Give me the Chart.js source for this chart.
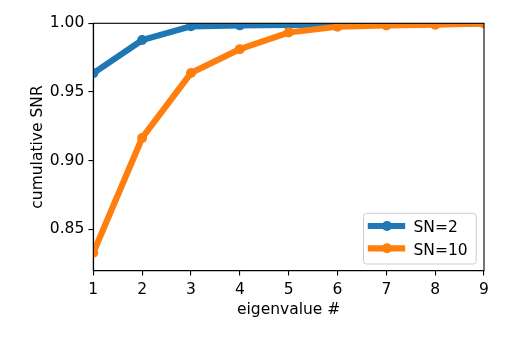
<!DOCTYPE html>
<html>
<head>
<meta charset="utf-8">
<script src="https://cdn.jsdelivr.net/npm/chart.js@4/dist/chart.umd.min.js"></script>
<style>
  html, body { margin: 0; padding: 0; background: #fff; }
  #wrap { width: 506px; height: 337px; }
</style>
</head>
<body>
<div id="wrap"><canvas id="snrChart" width="506" height="337"></canvas></div>
<script>
// eigenvalue index and cumulative SNR
var eigenIdx = [1, 2, 3, 4, 5, 6, 7, 8, 9];
var snrSN2 = [0.9637, 0.9878, 0.9978, 0.9985, 0.9988, 0.9990, 0.9992, 0.9995, 1.0];
var snrSN10 = [0.8330, 0.9166, 0.9638, 0.9812, 0.9933, 0.9975, 0.9985, 0.9990, 1.0];
var seriesNames = ["SN=2", "SN=10"];
var yTicks = [0.85, 0.90, 0.95, 1.00];
var xTicks = [1, 2, 3, 4, 5, 6, 7, 8, 9];

const blue = "#1f77b4";
const orange = "#ff7f0e";
const fontFam = "'DejaVu Sans', sans-serif";
const fs = 15.5;

function toPoints(ys) {
  return eigenIdx.map((x, i) => ({ x: x, y: ys[i] }));
}

// matplotlib-like frame + legend in lower right
const framePlugin = {
  id: "frame",
  afterDraw(chart) {
    const ctx = chart.ctx;
    const a = chart.chartArea;
    ctx.save();
    ctx.strokeStyle = "#000";
    ctx.lineWidth = 1.1;
    ctx.strokeRect(a.left, a.top, a.right - a.left, a.bottom - a.top);

    // legend box
    const bx = a.right - 120.5, by = a.bottom - 57.4, bw = 112.7, bh = 50.7, r = 3;
    ctx.beginPath();
    ctx.moveTo(bx + r, by);
    ctx.arcTo(bx + bw, by, bx + bw, by + bh, r);
    ctx.arcTo(bx + bw, by + bh, bx, by + bh, r);
    ctx.arcTo(bx, by + bh, bx, by, r);
    ctx.arcTo(bx, by, bx + bw, by, r);
    ctx.closePath();
    ctx.fillStyle = "rgba(255,255,255,0.8)";
    ctx.fill();
    ctx.strokeStyle = "#cccccc";
    ctx.lineWidth = 1;
    ctx.stroke();

    const rows = [by + 12.7, by + 35];
    chart.data.datasets.forEach(function (ds, i) {
      const yy = rows[i];
      ctx.strokeStyle = ds.borderColor;
      ctx.lineWidth = ds.borderWidth;
      ctx.lineCap = "butt";
      ctx.beginPath();
      ctx.moveTo(bx + 4.3, yy);
      ctx.lineTo(bx + 41.7, yy);
      ctx.stroke();
      ctx.fillStyle = ds.borderColor;
      ctx.beginPath();
      ctx.arc(bx + 23.5, yy, ds.pointRadius, 0, Math.PI * 2);
      ctx.fill();
      ctx.fillStyle = "#000";
      ctx.font = fs + "px " + fontFam;
      ctx.textBaseline = "alphabetic";
      ctx.textAlign = "left";
      ctx.fillText(ds.label, bx + 50, yy + 6.3);
    });
    ctx.restore();
  }
};

new Chart(document.getElementById("snrChart"), {
  type: "line",
  data: {
    datasets: [
      {
        label: seriesNames[0],
        data: toPoints(snrSN2),
        borderColor: blue,
        backgroundColor: blue,
        borderWidth: 6.2,
        pointRadius: 5,
        pointBorderWidth: 0,
        pointBackgroundColor: blue,
        clip: 0,
        order: 2,
      },
      {
        label: seriesNames[1],
        data: toPoints(snrSN10),
        borderColor: orange,
        backgroundColor: orange,
        borderWidth: 6.2,
        pointRadius: 5,
        pointBorderWidth: 0,
        pointBackgroundColor: orange,
        clip: 0,
        order: 1,
      },
    ],
  },
  options: {
    responsive: false,
    animation: false,
    events: [],
    layout: { padding: { top: 23.3, right: 22, left: 0, bottom: 0 } },
    plugins: {
      legend: { display: false },
      tooltip: { enabled: false },
    },
    scales: {
      x: {
        type: "linear",
        min: 1,
        max: 9,
        afterFit: (s) => { s.height = 66.3; },
        afterBuildTicks: (s) => { s.ticks = xTicks.map((v) => ({ value: v })); },
        grid: { drawOnChartArea: false, drawTicks: true, tickLength: 4.9, color: "#000", lineWidth: 1.1 },
        border: { display: true, color: "#000", width: 1.1 },
        ticks: { color: "#000", padding: 4.8, maxRotation: 0, font: { family: fontFam, size: fs } },
        title: {
          display: true,
          text: "eigenvalue #",
          color: "#000",
          font: { family: fontFam, size: fs },
          padding: { top: 0, bottom: 18 },
        },
      },
      y: {
        min: 0.82,
        max: 1.0,
        afterFit: (s) => { s.width = 93.3; },
        afterBuildTicks: (s) => { s.ticks = yTicks.map((v) => ({ value: v })); },
        grid: { drawOnChartArea: false, drawTicks: true, tickLength: 4.9, color: "#000", lineWidth: 1.1 },
        border: { display: true, color: "#000", width: 1.1 },
        ticks: {
          color: "#000",
          padding: 4.1,
          font: { family: fontFam, size: fs },
          callback: (v) => Number(v).toFixed(2),
        },
        title: {
          display: true,
          text: "cumulative SNR",
          color: "#000",
          font: { family: fontFam, size: fs },
          padding: { top: 28.8, bottom: 0 },
        },
      },
    },
  },
  plugins: [framePlugin],
});
</script>
</body>
</html>
